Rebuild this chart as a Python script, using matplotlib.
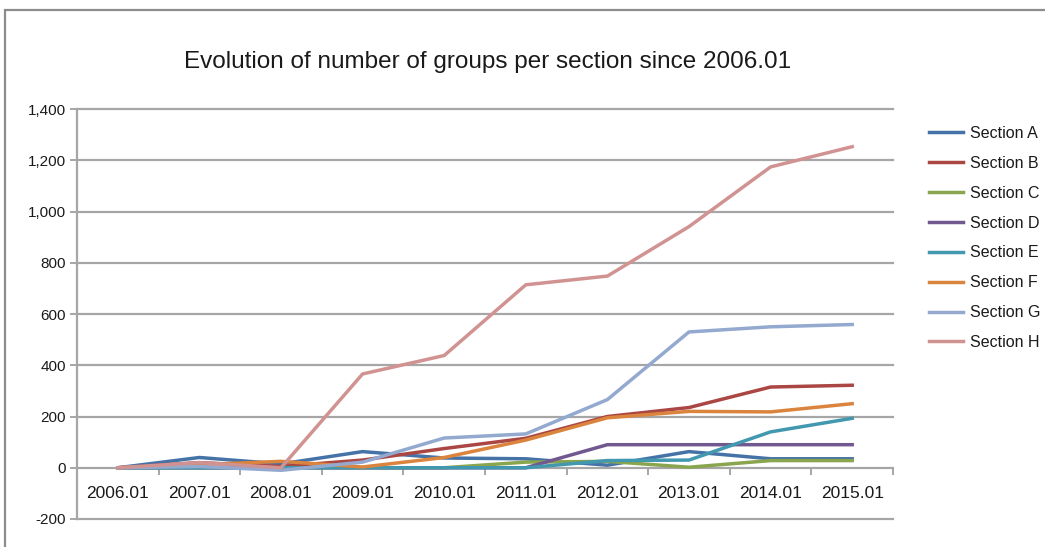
# -*- coding: utf-8 -*-

"""
Number of groups per section, yearly snapshots since 2006.01
"""

import numpy as np
import matplotlib
matplotlib.use('Agg')
import matplotlib.pyplot as plt
from matplotlib.patches import Rectangle


PERIODS = ['2006.01', '2007.01', '2008.01', '2009.01', '2010.01',
           '2011.01', '2012.01', '2013.01', '2014.01', '2015.01']

SECTION_A = [0, 40, 15, 63, 38, 35, 10, 63, 35, 35]
SECTION_B = [0, 20, 5, 30, 75, 115, 200, 235, 315, 322]
SECTION_C = [0, 0, 0, 0, 0, 22, 25, 2, 28, 28]
SECTION_D = [0, 0, 0, 0, 0, 0, 90, 90, 90, 90]
SECTION_E = [0, 0, 0, 0, 0, 0, 28, 30, 140, 193]
SECTION_F = [0, 12, 25, 3, 40, 108, 195, 220, 218, 250]
SECTION_G = [0, 5, -10, 22, 116, 132, 266, 530, 550, 559]
SECTION_H = [0, 20, 0, 366, 438, 714, 748, 941, 1174, 1253]

SECTION_NAMES = ['Section A', 'Section B', 'Section C', 'Section D',
                 'Section E', 'Section F', 'Section G', 'Section H']

Y_TICKS = [-200, 0, 200, 400, 600, 800, 1000, 1200, 1400]

# Office 2007 style palette
COLORS = ['#4572A7', '#AA4643', '#89A54E', '#71588F',
          '#4198AF', '#DB843D', '#93A9CF', '#D19392']

GRID = '#A6A6A6'
TEXT = '#1a1a1a'

plt.rcParams['font.family'] = ['Liberation Sans', 'DejaVu Sans']

# =============================================================================
# Figure setup
# =============================================================================
fig = plt.figure(figsize=(10.45, 5.47), dpi=100)
ax = fig.add_axes([77 / 1045, 1 - 519 / 547, (893 - 77) / 1045, 410 / 547])

series = [SECTION_A, SECTION_B, SECTION_C, SECTION_D,
          SECTION_E, SECTION_F, SECTION_G, SECTION_H]
x = np.arange(len(PERIODS))

# Horizontal gridlines (including the ones at both ends of the range)
for level in Y_TICKS:
    if level == 0:
        continue
    ax.axhline(level, color=GRID, lw=1.6, clip_on=False, zorder=1)

for values, name, color in zip(series, SECTION_NAMES, COLORS):
    ax.plot(x, values, color=color, lw=2.5, label=name,
            solid_joinstyle='round', zorder=3)

ax.set_xlim(-0.5, len(PERIODS) - 0.5)
ax.set_ylim(-200, 1400)

# Spines: y axis on the left, x axis sitting on zero
for side in ('top', 'right'):
    ax.spines[side].set_visible(False)
ax.spines['left'].set_color(GRID)
ax.spines['left'].set_linewidth(1.6)
ax.spines['bottom'].set_position(('data', 0))
ax.spines['bottom'].set_color(GRID)
ax.spines['bottom'].set_linewidth(1.6)
ax.spines['bottom'].set_zorder(2)

ax.set_yticks(Y_TICKS)
ax.set_yticklabels(['{:,}'.format(v) for v in Y_TICKS])
ax.tick_params(axis='y', direction='out', length=5, width=1.4,
               color=GRID, labelsize=11, labelcolor=TEXT, pad=3)

# Category ticks on the boundaries, labels centred on the categories
ax.set_xticks(np.arange(len(PERIODS) + 1) - 0.5)
ax.set_xticklabels([])
ax.set_xticks(x, minor=True)
ax.set_xticklabels(PERIODS, minor=True)
ax.tick_params(axis='x', which='major', direction='out', length=5,
               width=1.4, color=GRID)
ax.tick_params(axis='x', which='minor', length=0, labelsize=12.5,
               labelcolor=TEXT, pad=13)

ax.patch.set_visible(False)

fig.text(488 / 1045, 1 - 62 / 547,
         'Evolution of number of groups per section since 2006.01',
         ha='center', va='center', fontsize=17.5, color=TEXT)

fig.legend(loc='upper left', bbox_to_anchor=(929 / 1045, 1 - 126 / 547),
           frameon=False, fontsize=11.5, handlelength=2.1,
           handletextpad=0.45, labelspacing=0.93, borderpad=0,
           borderaxespad=0, labelcolor=TEXT)

# Chart frame (runs off the bottom and right of the image)
fig.add_artist(Rectangle((5 / 1045, -0.1), 1.1, 0.1 + 1 - 10 / 547,
                         transform=fig.transFigure, fill=False,
                         edgecolor='#8C8C8C', lw=1.6))

fig.savefig('out.png', dpi=100)
